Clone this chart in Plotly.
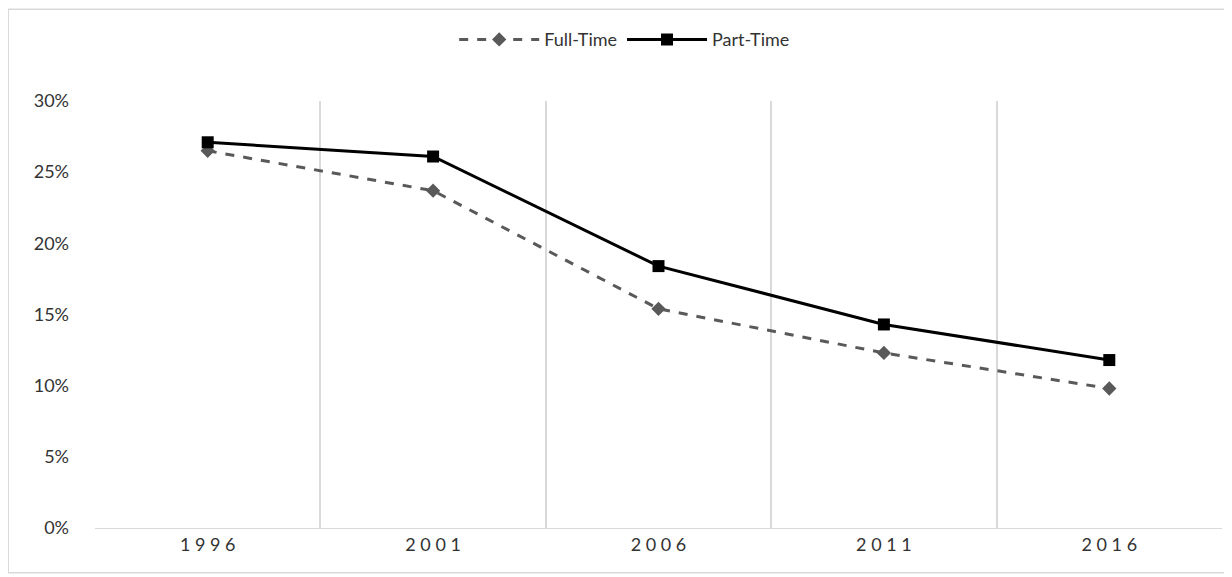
import plotly.graph_objects as go

years = ["1996", "2001", "2006", "2011", "2016"]
full_time = [26.5, 23.7, 15.4, 12.3, 9.8]
part_time = [27.1, 26.1, 18.4, 14.3, 11.8]
x = list(range(len(years)))

fig = go.Figure()
fig.add_trace(go.Scatter(x=x, y=full_time, name="Full-Time", mode="lines+markers",
                         line=dict(color="#595959", width=3, dash="dash"),
                         marker=dict(symbol="diamond", size=11, color="#595959")))
fig.add_trace(go.Scatter(x=x, y=part_time, name="Part-Time", mode="lines+markers",
                         line=dict(color="#000000", width=3),
                         marker=dict(symbol="square", size=12, color="#000000")))

fig.update_layout(
    width=1232, height=577, paper_bgcolor="white", plot_bgcolor="white",
    margin=dict(l=87, r=18, t=93, b=57, autoexpand=False),
    font=dict(family="Lato, DejaVu Sans", size=18, color="#333333"),
    legend=dict(orientation="h", x=0.47, xanchor="center", yref="container", y=0.945, yanchor="middle",
                font=dict(size=18), itemwidth=80),
    xaxis=dict(range=[-0.5, 4.5], tickmode="array", tickvals=x, ticktext=[" ".join(y) for y in years],
               showgrid=False, zeroline=False, showline=True, linecolor="#d9d9d9", automargin=False,
               minor=dict(tickmode="linear", tick0=0.5, dtick=1, showgrid=True, gridcolor="#d9d9d9", gridwidth=1.5)),
    yaxis=dict(range=[0, 30], dtick=5, ticksuffix="%", showgrid=False, zeroline=False,
               showline=False, automargin=False, ticklabelstandoff=25),
    shapes=[dict(type="rect", xref="paper", yref="paper", x0=-0.077, x1=1.009, y0=-0.105, y1=1.215,
                 line=dict(color="#d9d9d9", width=1.5))],
)
fig.write_html("out.html")
